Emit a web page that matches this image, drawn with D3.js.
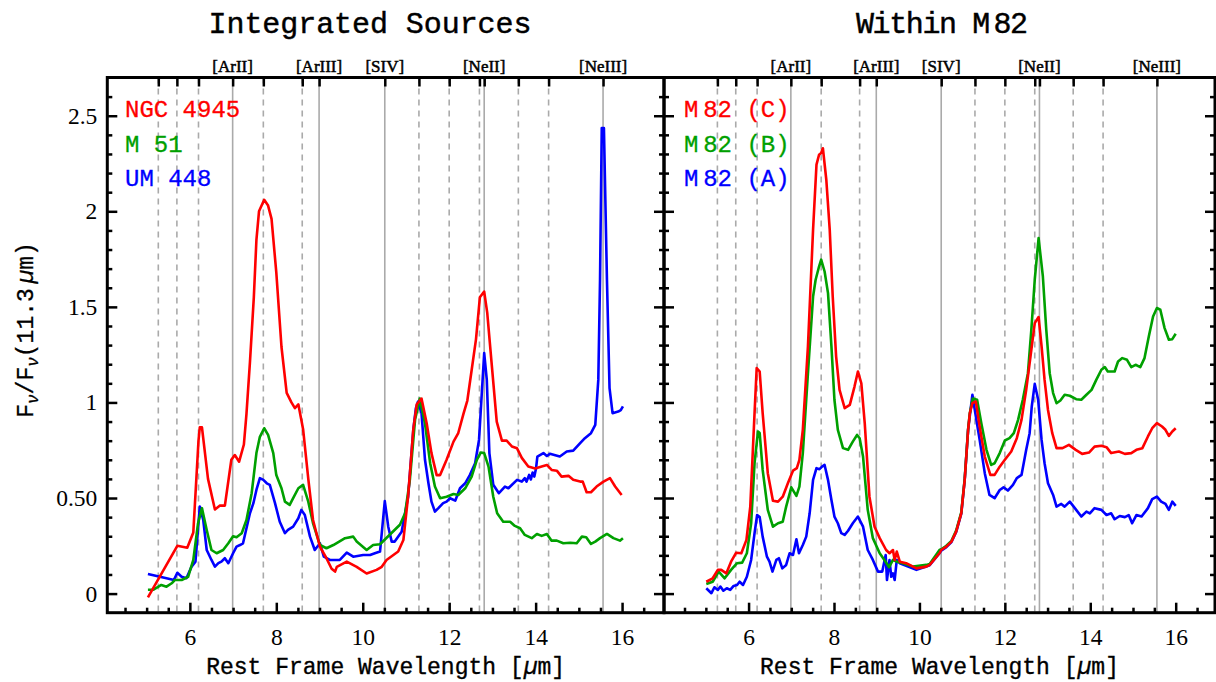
<!DOCTYPE html>
<html>
<head>
<meta charset="utf-8">
<script src="https://cdn.jsdelivr.net/npm/d3@7"></script>
<style>
  body { margin: 0; background: #fff; }
  svg { display: block; }
  .mono { font-family: "Liberation Mono", "Courier New", monospace; }
  .serif { font-family: "Liberation Serif", "Times New Roman", serif; }
</style>
</head>
<body>
<svg id="chart" width="1216" height="682"></svg>
<script>
"use strict";

// PAH features (dashed) and fine-structure lines (solid), in microns
const pahLines = [5.27, 5.7, 6.2, 7.7, 8.6, 11.3, 12.0, 12.7, 13.6, 14.3];
const ionLines = [6.99, 8.99, 10.51, 12.81, 15.56];
const ionLabels = ["[ArII]", "[ArIII]", "[SIV]", "[NeII]", "[NeIII]"];

const xTickValues = [6, 8, 10, 12, 14, 16];
const yTickValues = [0, 0.5, 1, 1.5, 2, 2.5];
const yTickLabels = ["0", "0.50", "1", "1.5", "2", "2.5"];

// integrated sources: [wavelength (um), Fnu / Fnu(11.3um)]
const ngc4945 = [[5.03, -0.02], [5.71, 0.25], [5.94, 0.24], [6.08, 0.32], [6.2, 0.80], [6.23, 0.87], [6.28, 0.87], [6.42, 0.60], [6.58, 0.44], [6.69, 0.46], [6.81, 0.46], [6.96, 0.70], [7.04, 0.725], [7.14, 0.69], [7.25, 0.78], [7.31, 0.94], [7.39, 1.21], [7.48, 1.55], [7.54, 1.85], [7.60, 2.0], [7.72, 2.06], [7.81, 2.03], [7.89, 1.96], [8.0, 1.68], [8.12, 1.29], [8.24, 1.05], [8.35, 1.0], [8.43, 0.97], [8.51, 0.99], [8.62, 0.86], [8.74, 0.60], [8.85, 0.385], [9.01, 0.245], [9.16, 0.185], [9.28, 0.13], [9.36, 0.115], [9.40, 0.14], [9.63, 0.167], [9.86, 0.14], [10.09, 0.105], [10.32, 0.124], [10.44, 0.14], [10.55, 0.176], [10.82, 0.22], [10.94, 0.28], [11.05, 0.51], [11.17, 0.86], [11.25, 0.99], [11.36, 1.02], [11.48, 0.89], [11.59, 0.735], [11.71, 0.62], [11.79, 0.62], [11.94, 0.70], [12.10, 0.795], [12.21, 0.84], [12.33, 0.94], [12.42, 1.01], [12.52, 1.17], [12.62, 1.33], [12.71, 1.55], [12.81, 1.58], [12.88, 1.47], [12.98, 1.21], [13.10, 0.90], [13.22, 0.80], [13.33, 0.80], [13.45, 0.77], [13.57, 0.76], [13.68, 0.71], [13.83, 0.665], [13.99, 0.655], [14.14, 0.665], [14.26, 0.673], [14.37, 0.647], [14.49, 0.643], [14.60, 0.612], [14.76, 0.616], [14.87, 0.595], [15.03, 0.586], [15.09, 0.586], [15.18, 0.53], [15.28, 0.53], [15.41, 0.56], [15.57, 0.586], [15.72, 0.604], [15.84, 0.56], [15.99, 0.516]];

const m51 = [[5.03, 0.02], [5.15, 0.02], [5.34, 0.045], [5.46, 0.036], [5.58, 0.054], [5.65, 0.071], [5.81, 0.071], [5.96, 0.088], [6.08, 0.176], [6.19, 0.368], [6.28, 0.447], [6.39, 0.333], [6.50, 0.228], [6.62, 0.211], [6.77, 0.228], [6.89, 0.263], [7.00, 0.30], [7.08, 0.295], [7.20, 0.316], [7.31, 0.385], [7.43, 0.525], [7.54, 0.735], [7.62, 0.82], [7.72, 0.865], [7.81, 0.83], [7.93, 0.735], [8.0, 0.62], [8.12, 0.551], [8.20, 0.481], [8.31, 0.464], [8.39, 0.499], [8.51, 0.551], [8.62, 0.569], [8.74, 0.481], [8.85, 0.368], [9.01, 0.254], [9.16, 0.237], [9.32, 0.254], [9.59, 0.29], [9.78, 0.298], [9.86, 0.272], [10.09, 0.228], [10.24, 0.254], [10.40, 0.258], [10.86, 0.36], [10.98, 0.42], [11.09, 0.595], [11.21, 0.909], [11.32, 1.02], [11.44, 0.89], [11.56, 0.682], [11.67, 0.56], [11.79, 0.499], [11.94, 0.507], [12.10, 0.521], [12.21, 0.516], [12.37, 0.551], [12.52, 0.612], [12.64, 0.70], [12.73, 0.738], [12.81, 0.735], [12.91, 0.664], [13.02, 0.507], [13.11, 0.42], [13.25, 0.376], [13.41, 0.376], [13.52, 0.354], [13.64, 0.342], [13.75, 0.307], [13.91, 0.29], [14.03, 0.312], [14.14, 0.302], [14.26, 0.312], [14.37, 0.277], [14.49, 0.277], [14.64, 0.263], [14.80, 0.266], [14.95, 0.263], [15.07, 0.298], [15.17, 0.295], [15.28, 0.26], [15.38, 0.272], [15.49, 0.29], [15.65, 0.312], [15.80, 0.29], [15.95, 0.277], [16.02, 0.29]];

const um448 = [[5.03, 0.103], [5.46, 0.08], [5.63, 0.071], [5.71, 0.109], [5.81, 0.088], [5.92, 0.08], [6.04, 0.141], [6.13, 0.167], [6.23, 0.455], [6.31, 0.385], [6.39, 0.228], [6.50, 0.176], [6.58, 0.141], [6.66, 0.159], [6.73, 0.167], [6.81, 0.185], [6.89, 0.159], [7.0, 0.211], [7.08, 0.246], [7.16, 0.254], [7.23, 0.263], [7.31, 0.342], [7.39, 0.42], [7.47, 0.473], [7.54, 0.542], [7.62, 0.604], [7.70, 0.595], [7.78, 0.577], [7.85, 0.569], [7.97, 0.473], [8.08, 0.376], [8.20, 0.316], [8.27, 0.333], [8.39, 0.35], [8.51, 0.394], [8.58, 0.438], [8.66, 0.411], [8.78, 0.298], [8.89, 0.228], [9.01, 0.263], [9.10, 0.193], [9.24, 0.176], [9.47, 0.176], [9.63, 0.214], [9.78, 0.193], [10.01, 0.202], [10.17, 0.202], [10.28, 0.211], [10.40, 0.22], [10.51, 0.484], [10.59, 0.35], [10.67, 0.272], [10.74, 0.272], [10.90, 0.324], [11.05, 0.507], [11.17, 0.857], [11.23, 0.97], [11.28, 1.005], [11.36, 0.944], [11.44, 0.70], [11.52, 0.577], [11.59, 0.481], [11.67, 0.429], [11.75, 0.447], [11.86, 0.473], [11.94, 0.481], [12.02, 0.499], [12.14, 0.486], [12.25, 0.551], [12.37, 0.577], [12.48, 0.621], [12.60, 0.682], [12.69, 0.804], [12.75, 1.031], [12.81, 1.258], [12.87, 1.118], [12.93, 0.735], [13.02, 0.569], [13.15, 0.525], [13.29, 0.56], [13.37, 0.551], [13.57, 0.595], [13.68, 0.586], [13.75, 0.604], [13.79, 0.586], [13.85, 0.621], [13.89, 0.597], [13.93, 0.633], [13.97, 0.612], [14.01, 0.656], [14.04, 0.717], [14.18, 0.735], [14.26, 0.72], [14.33, 0.731], [14.56, 0.717], [14.72, 0.743], [14.87, 0.748], [15.03, 0.787], [15.14, 0.813], [15.28, 0.839], [15.38, 0.883], [15.45, 1.118], [15.49, 1.642], [15.53, 2.436], [15.58, 2.436], [15.65, 1.642], [15.71, 1.075], [15.78, 0.944], [15.91, 0.952], [15.97, 0.96], [16.02, 0.979]];

// regions within M 82
const m82C = [[5.01, 0.062], [5.16, 0.08], [5.28, 0.124], [5.36, 0.124], [5.48, 0.106], [5.59, 0.167], [5.71, 0.214], [5.83, 0.211], [5.95, 0.281], [6.04, 0.455], [6.14, 0.944], [6.19, 1.18], [6.26, 1.162], [6.33, 0.944], [6.45, 0.63], [6.57, 0.486], [6.69, 0.481], [6.80, 0.507], [6.92, 0.577], [7.04, 0.643], [7.13, 0.656], [7.19, 0.70], [7.27, 0.857], [7.39, 1.293], [7.51, 1.904], [7.59, 2.244], [7.65, 2.296], [7.70, 2.305], [7.74, 2.33], [7.82, 2.165], [7.90, 1.904], [7.97, 1.554], [8.05, 1.24], [8.13, 1.066], [8.25, 0.97], [8.37, 0.987], [8.48, 1.083], [8.56, 1.162], [8.64, 1.10], [8.72, 0.89], [8.83, 0.507], [8.95, 0.35], [9.07, 0.29], [9.22, 0.228], [9.30, 0.211], [9.38, 0.228], [9.42, 0.176], [9.47, 0.22], [9.54, 0.167], [9.69, 0.159], [9.93, 0.132], [10.16, 0.141], [10.24, 0.15], [10.47, 0.211], [10.51, 0.228], [10.63, 0.246], [10.75, 0.272], [10.86, 0.324], [10.98, 0.42], [11.06, 0.595], [11.14, 0.857], [11.18, 0.944], [11.24, 0.996], [11.32, 1.005], [11.41, 0.874], [11.53, 0.717], [11.66, 0.621], [11.76, 0.621], [11.88, 0.664], [12.00, 0.70], [12.15, 0.743], [12.28, 0.813], [12.39, 0.909], [12.50, 1.066], [12.60, 1.24], [12.70, 1.415], [12.79, 1.447], [12.86, 1.293], [12.93, 1.118], [13.01, 0.961], [13.11, 0.839], [13.21, 0.761], [13.35, 0.761], [13.50, 0.778], [13.66, 0.752], [13.81, 0.731], [13.97, 0.738], [14.10, 0.769], [14.26, 0.773], [14.38, 0.766], [14.49, 0.735], [14.67, 0.743], [14.81, 0.731], [14.96, 0.735], [15.08, 0.752], [15.22, 0.761], [15.35, 0.822], [15.45, 0.865], [15.56, 0.892], [15.68, 0.874], [15.76, 0.857], [15.84, 0.825], [15.92, 0.848], [16.00, 0.865]];

const m82B = [[5.01, 0.05], [5.16, 0.062], [5.30, 0.115], [5.44, 0.08], [5.59, 0.124], [5.73, 0.159], [5.85, 0.162], [5.96, 0.211], [6.06, 0.368], [6.14, 0.682], [6.22, 0.848], [6.26, 0.84], [6.33, 0.647], [6.45, 0.438], [6.57, 0.35], [6.69, 0.368], [6.80, 0.376], [6.88, 0.455], [7.0, 0.556], [7.12, 0.511], [7.19, 0.56], [7.27, 0.735], [7.39, 1.153], [7.51, 1.554], [7.57, 1.642], [7.65, 1.711], [7.70, 1.747], [7.78, 1.685], [7.86, 1.572], [7.94, 1.293], [8.01, 1.014], [8.09, 0.857], [8.21, 0.761], [8.33, 0.752], [8.44, 0.795], [8.54, 0.83], [8.60, 0.813], [8.68, 0.717], [8.79, 0.438], [8.91, 0.29], [9.07, 0.211], [9.18, 0.176], [9.29, 0.138], [9.38, 0.176], [9.47, 0.167], [9.61, 0.159], [9.85, 0.141], [10.16, 0.15], [10.24, 0.155], [10.47, 0.228], [10.51, 0.232], [10.63, 0.25], [10.75, 0.276], [10.86, 0.33], [10.98, 0.425], [11.06, 0.6], [11.14, 0.86], [11.18, 0.944], [11.25, 1.02], [11.35, 1.014], [11.45, 0.89], [11.57, 0.752], [11.68, 0.673], [11.76, 0.682], [11.88, 0.735], [12.00, 0.801], [12.11, 0.813], [12.21, 0.839], [12.31, 0.909], [12.42, 1.014], [12.54, 1.153], [12.62, 1.38], [12.70, 1.642], [12.79, 1.86], [12.89, 1.659], [12.97, 1.38], [13.05, 1.153], [13.13, 1.049], [13.21, 0.996], [13.30, 1.01], [13.40, 1.04], [13.52, 1.035], [13.67, 1.017], [13.79, 1.014], [13.91, 1.04], [14.03, 1.066], [14.14, 1.118], [14.26, 1.171], [14.34, 1.185], [14.41, 1.162], [14.57, 1.162], [14.65, 1.214], [14.75, 1.232], [14.86, 1.223], [14.96, 1.185], [15.06, 1.197], [15.17, 1.185], [15.27, 1.232], [15.37, 1.345], [15.47, 1.45], [15.56, 1.494], [15.64, 1.485], [15.74, 1.389], [15.84, 1.328], [15.92, 1.331], [16.00, 1.359]];

const m82A = [[5.01, 0.028], [5.13, 0.002], [5.20, 0.033], [5.28, 0.019], [5.34, 0.037], [5.41, 0.015], [5.49, 0.028], [5.57, 0.019], [5.65, 0.04], [5.73, 0.045], [5.79, 0.062], [5.87, 0.045], [5.96, 0.088], [6.06, 0.176], [6.14, 0.316], [6.20, 0.411], [6.26, 0.40], [6.33, 0.298], [6.43, 0.193], [6.49, 0.167], [6.56, 0.115], [6.65, 0.176], [6.71, 0.185], [6.79, 0.132], [6.88, 0.15], [6.96, 0.211], [7.04, 0.202], [7.12, 0.284], [7.18, 0.211], [7.27, 0.254], [7.35, 0.298], [7.43, 0.42], [7.51, 0.595], [7.59, 0.656], [7.66, 0.651], [7.72, 0.664], [7.78, 0.673], [7.86, 0.595], [7.94, 0.49], [8.01, 0.403], [8.09, 0.368], [8.17, 0.316], [8.25, 0.307], [8.33, 0.329], [8.44, 0.368], [8.56, 0.403], [8.68, 0.35], [8.79, 0.228], [8.91, 0.176], [9.03, 0.115], [9.13, 0.115], [9.21, 0.202], [9.24, 0.071], [9.30, 0.176], [9.34, 0.088], [9.38, 0.106], [9.42, 0.071], [9.47, 0.176], [9.54, 0.159], [9.93, 0.124], [10.16, 0.141], [10.24, 0.148], [10.47, 0.211], [10.51, 0.225], [10.63, 0.243], [10.75, 0.27], [10.86, 0.322], [10.98, 0.418], [11.06, 0.595], [11.14, 0.857], [11.24, 1.04], [11.29, 0.97], [11.41, 0.804], [11.53, 0.63], [11.64, 0.516], [11.76, 0.499], [11.88, 0.542], [11.97, 0.556], [12.07, 0.539], [12.19, 0.569], [12.28, 0.604], [12.39, 0.621], [12.50, 0.752], [12.58, 0.839], [12.63, 0.979], [12.70, 1.097], [12.78, 1.014], [12.86, 0.804], [12.93, 0.682], [13.01, 0.577], [13.13, 0.516], [13.21, 0.455], [13.32, 0.469], [13.40, 0.455], [13.52, 0.481], [13.67, 0.438], [13.79, 0.403], [13.91, 0.429], [13.99, 0.42], [14.10, 0.447], [14.26, 0.438], [14.38, 0.411], [14.49, 0.42], [14.57, 0.389], [14.69, 0.406], [14.81, 0.40], [14.90, 0.411], [14.98, 0.368], [15.08, 0.411], [15.20, 0.403], [15.35, 0.447], [15.45, 0.494], [15.56, 0.507], [15.66, 0.481], [15.76, 0.469], [15.84, 0.438], [15.92, 0.481], [16.00, 0.459]];

const RED = "#ff0000", GREEN = "#00a000", BLUE = "#0000ff";
const yTop = 77.5, yBottom = 612.7;

const svg = d3.select("#chart");

let y = d3.scaleLinear().domain([-0.1, 2.7]).range([yBottom, yTop]);

let panels = [
    {
        x0: 107.3, x1: 664, domain: [4.09, 16.97],
        title: "Integrated Sources", titleX: 370, titleLen: 323, yLabels: true,
        // drawn bottom to top, red last
        series: [{ data: um448, color: BLUE }, { data: m51, color: GREEN }, { data: ngc4945, color: RED }],
        legend: [["NGC 4945", RED], ["M 51", GREEN], ["UM 448", BLUE]],
        legendX: 125
    },
    {
        x0: 664, x1: 1215, domain: [4.02, 16.92],
        title: "Within M\u200982", titleX: 942, titleLen: 172, yLabels: false,
        series: [{ data: m82A, color: BLUE }, { data: m82B, color: GREEN }, { data: m82C, color: RED }],
        legend: [["M\u200982 (C)", RED], ["M\u200982 (B)", GREEN], ["M\u200982 (A)", BLUE]],
        legendX: 684
    }
];

panels.forEach(drawPanel);
drawYLabel();

// medium-weight look for the typewriter text
function thicken(sel, color, w) {
    sel.attr("stroke", color).attr("stroke-width", w).attr("paint-order", "fill");
}

function styleAxis(g) {
    g.select(".domain").remove();
    g.selectAll(".tick line").attr("stroke", "#000").attr("stroke-width", 2.5);
    g.selectAll(".tick text")
        .attr("class", "serif")
        .attr("fill", "#000")
        .style("font-size", "23.5px");
}

function drawPanel(p) {
    let x = d3.scaleLinear().domain(p.domain).range([p.x0, p.x1]);
    let g = svg.append("g");

    // vertical feature lines
    g.selectAll(".pah-line")
        .data(pahLines)
        .enter().append("line")
        .attr("class", "pah-line")
        .attr("x1", d => x(d)).attr("x2", d => x(d))
        .attr("y1", yTop).attr("y2", yBottom)
        .attr("stroke", "#aaaaaa")
        .attr("stroke-width", 1.6)
        .attr("stroke-dasharray", "6,5");

    g.selectAll(".ion-line")
        .data(ionLines)
        .enter().append("line")
        .attr("class", "ion-line")
        .attr("x1", d => x(d)).attr("x2", d => x(d))
        .attr("y1", yTop).attr("y2", yBottom)
        .attr("stroke", "#aaaaaa")
        .attr("stroke-width", 1.6);

    // spectra
    let line = d3.line()
        .x(d => x(d[0]))
        .y(d => y(d[1]));

    g.selectAll(".spectrum")
        .data(p.series)
        .enter().append("path")
        .attr("class", "spectrum")
        .attr("d", d => line(d.data))
        .attr("fill", "none")
        .attr("stroke", d => d.color)
        .attr("stroke-width", 2.6)
        .attr("stroke-linejoin", "round");

    // bottom axis, ticks point inward
    g.append("g")
        .attr("transform", `translate(0,${yBottom})`)
        .call(d3.axisBottom(x).tickValues(xTickValues).tickSizeInner(-10).tickSizeOuter(0).tickPadding(16))
        .call(styleAxis);

    let xMinor = d3.range(8, 35).map(i => i / 2)
        .filter(v => v > p.domain[0] && v < p.domain[1] && xTickValues.indexOf(v) < 0);
    g.append("g")
        .attr("transform", `translate(0,${yBottom})`)
        .call(d3.axisBottom(x).tickValues(xMinor).tickSize(-5).tickFormat(""))
        .call(styleAxis);

    // top axis: ticks at every feature line
    g.append("g")
        .attr("transform", `translate(0,${yTop})`)
        .call(d3.axisTop(x).tickValues(pahLines.concat(ionLines)).tickSize(-9).tickFormat(""))
        .call(styleAxis);

    g.selectAll(".ion-label")
        .data(ionLines)
        .enter().append("text")
        .attr("class", "serif")
        .attr("x", d => x(d))
        .attr("y", 72)
        .attr("text-anchor", "middle")
        .style("font-size", "17px")
        .text((d, i) => ionLabels[i])
        .call(thicken, "#000", 0.5);

    // y axes on both sides
    let yMinor = d3.range(1, 27).filter(i => i % 5 !== 0).map(i => i / 10);

    g.append("g")
        .attr("transform", `translate(${p.x0},0)`)
        .call(d3.axisLeft(y).tickValues(yTickValues).tickSizeInner(-10).tickSizeOuter(0).tickPadding(10)
            .tickFormat((d, i) => p.yLabels ? yTickLabels[i] : ""))
        .call(styleAxis);
    g.append("g")
        .attr("transform", `translate(${p.x0},0)`)
        .call(d3.axisLeft(y).tickValues(yMinor).tickSize(-5).tickFormat(""))
        .call(styleAxis);

    g.append("g")
        .attr("transform", `translate(${p.x1},0)`)
        .call(d3.axisRight(y).tickValues(yTickValues).tickSize(-10).tickFormat(""))
        .call(styleAxis);
    g.append("g")
        .attr("transform", `translate(${p.x1},0)`)
        .call(d3.axisRight(y).tickValues(yMinor).tickSize(-5).tickFormat(""))
        .call(styleAxis);

    // frame
    g.append("rect")
        .attr("x", p.x0).attr("y", yTop)
        .attr("width", p.x1 - p.x0).attr("height", yBottom - yTop)
        .attr("fill", "none")
        .attr("stroke", "#000")
        .attr("stroke-width", 3);

    // legend
    g.selectAll(".legend")
        .data(p.legend)
        .enter().append("text")
        .attr("class", "mono")
        .attr("x", p.legendX)
        .attr("y", (d, i) => 117 + i * 34.7)
        .attr("fill", d => d[1])
        .style("font-size", "24px")
        .text(d => d[0])
        .each(function(d) { thicken(d3.select(this), d[1], 0.3); });

    // titles
    svg.append("text")
        .attr("class", "mono")
        .attr("x", p.titleX)
        .attr("y", 33)
        .attr("text-anchor", "middle")
        .attr("textLength", p.titleLen)
        .attr("lengthAdjust", "spacing")
        .style("font-size", "30px")
        .text(p.title)
        .call(thicken, "#000", 0.45);

    let xl = svg.append("text")
        .attr("class", "mono")
        .attr("x", (p.x0 + p.x1) / 2)
        .attr("y", 674)
        .attr("text-anchor", "middle")
        .style("font-size", "23px")
        .call(thicken, "#000", 0.35);
    xl.append("tspan").text("Rest Frame Wavelength [");
    xl.append("tspan").style("font-style", "italic").text("\u00b5");
    xl.append("tspan").text("m]");
}

function drawYLabel() {
    let t = svg.append("text")
        .attr("class", "mono")
        .attr("transform", "translate(33,330) rotate(-90)")
        .attr("text-anchor", "middle")
        .style("font-size", "23px")
        .call(thicken, "#000", 0.3);
    t.append("tspan").text("F");
    t.append("tspan").attr("dy", 5).style("font-size", "16px").style("font-style", "italic").text("\u03bd");
    t.append("tspan").attr("dy", -5).text("/F");
    t.append("tspan").attr("dy", 5).style("font-size", "16px").style("font-style", "italic").text("\u03bd");
    t.append("tspan").attr("dy", -5).text("(11.3\u2009");
    t.append("tspan").style("font-style", "italic").text("\u00b5");
    t.append("tspan").text("m)");
}
</script>
</body>
</html>
